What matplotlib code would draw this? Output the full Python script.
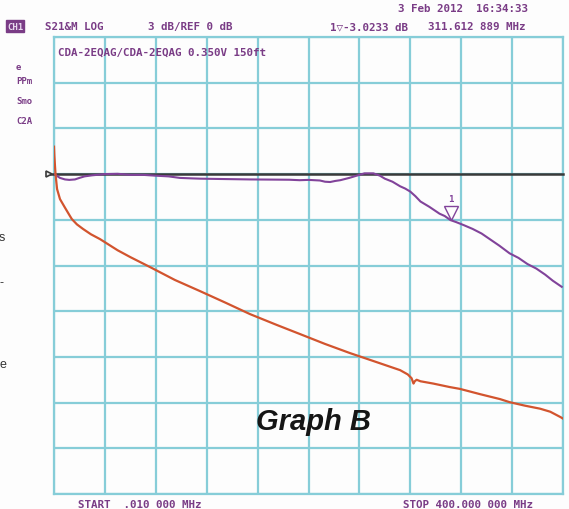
import matplotlib
matplotlib.use("Agg")
import matplotlib.pyplot as plt
import matplotlib.transforms as mtransforms

# ---- data ----
x_min_mhz, x_max_mhz = 0.0, 400.0
y_min_db, y_max_db = -21.0, 9.0
ref_db = 0.0

purple_f = [0.01, 2.0, 4.7, 8.6, 12.0, 16.5, 20.0, 24.0, 30.0, 40.0, 50.0, 60.0, 70.0, 79.0,
            90.0, 99.0, 108.0, 115.0, 130.0, 154.0, 170.0, 185.0, 193.0, 200.0, 209.0, 213.0,
            217.0, 221.0, 225.0, 232.0, 238.0, 244.0, 251.0, 256.0, 260.0, 266.0, 272.0,
            276.0, 280.0, 284.0, 288.0, 295.0, 303.0, 307.0, 311.6, 316.0, 322.0, 329.0,
            336.0, 343.0, 350.0, 358.0, 365.0, 372.0, 379.0, 386.0, 392.0, 399.0]
purple_db = [0.0, -0.1, -0.25, -0.35, -0.38, -0.35, -0.25, -0.15, -0.08, 0.0, 0.02, -0.05,
             -0.05, -0.1, -0.15, -0.25, -0.28, -0.3, -0.32, -0.35, -0.36, -0.37, -0.4, -0.38,
             -0.42, -0.5, -0.52, -0.45, -0.4, -0.25, -0.1, 0.05, 0.05, -0.1, -0.3, -0.5,
             -0.8, -0.95, -1.15, -1.45, -1.8, -2.15, -2.6, -2.75, -3.02, -3.15, -3.35, -3.6,
             -3.9, -4.3, -4.7, -5.2, -5.5, -5.9, -6.2, -6.6, -7.0, -7.4]

orange_f = [0.01, 0.3, 0.8, 1.2, 2.4, 4.7, 8.6, 12.6, 14.0, 18.0, 22.8, 29.0, 36.2, 50.0,
            60.0, 75.4, 95.0, 114.7, 135.0, 154.0, 175.0, 193.3, 213.0, 232.6, 252.0,
            272.0, 278.0, 281.0, 282.5, 283.5, 285.0, 288.0, 298.0, 311.0, 319.0, 335.0,
            350.5, 358.0, 370.0, 382.0, 390.0, 398.0, 400.0]
orange_db = [1.8, 1.2, 0.5, 0.0, -0.98, -1.64, -2.2, -2.76, -2.95, -3.3, -3.6, -3.95, -4.27,
             -5.0, -5.45, -6.1, -6.95, -7.68, -8.45, -9.19, -9.9, -10.5, -11.15, -11.75,
             -12.3, -12.87, -13.15, -13.4, -13.75, -13.6, -13.5, -13.6, -13.75, -13.98,
             -14.1, -14.45, -14.77, -14.97, -15.2, -15.4, -15.6, -15.95, -16.05]

marker_f, marker_db = 311.612889, -3.0233

grid_color = "#86cdd8"
purple = "#81439a"
orange = "#d2542e"
txt_purple = "#7a3c86"

fig = plt.figure(figsize=(5.69, 5.10), dpi=100)
fig.patch.set_facecolor("#fdfdfd")
ax = fig.add_axes([54 / 569, 1 - 495 / 510, (563 - 54) / 569, (495 - 38) / 510])
ax.set_facecolor("#fdfdfd")
ax.set_xlim(x_min_mhz, x_max_mhz)
ax.set_ylim(y_min_db, y_max_db)
ax.set_xticks([x_min_mhz + i * 40 for i in range(11)])
ax.set_yticks([y_min_db + i * 3 for i in range(11)])
ax.grid(True, color=grid_color, linewidth=1.6)
ax.tick_params(length=0, labelbottom=False, labelleft=False)
for s in ax.spines.values():
    s.set_color(grid_color)
    s.set_linewidth(1.6)

# reference line with start triangle
trans = mtransforms.blended_transform_factory(ax.transAxes, ax.transData)
ax.plot([-0.012, 1.0], [ref_db, ref_db], color="#3a3a3a", lw=1.8, transform=trans,
        clip_on=False, zorder=3)
ax.plot([-0.009], [ref_db], marker=">", color="#3a3a3a", markersize=5, transform=trans,
        clip_on=False, zorder=4, markerfacecolor="#eeeeee", markeredgewidth=1.2)

ax.plot(purple_f, purple_db, color=purple, lw=1.5, zorder=5)
ax.plot(orange_f, orange_db, color=orange, lw=1.6, zorder=5)

# marker 1
ax.plot([marker_f], [marker_db + 0.45], marker="v", markersize=10, markerfacecolor="none",
        markeredgecolor=purple, markeredgewidth=1.0, zorder=6)
ax.text(marker_f, marker_db + 1.1, "1", color=purple, fontsize=6.5,
        ha="center", va="bottom", family="DejaVu Sans Mono", fontweight="bold")

ax.text(0.008, 0.978, "CDA-2EQAG/CDA-2EQAG 0.350V 150ft", transform=ax.transAxes,
        color=txt_purple, fontsize=7.8, family="DejaVu Sans Mono", fontweight="bold",
        va="top", ha="left")

ax.text(0.509, (495 - 430) / 457, "Graph B", transform=ax.transAxes, fontsize=21,
        fontweight="bold", fontstyle="italic", family="Liberation Sans", color="#151515",
        ha="center", va="baseline", zorder=7)

mono = dict(family="DejaVu Sans Mono", fontweight="bold", color=txt_purple, fontsize=7.8)
fig.text(398 / 569, 1 - 9 / 510, "3 Feb 2012  16:34:33", va="center", ha="left", **mono)
fig.text(7 / 569, 1 - 27 / 510, "CH1", va="center", ha="left",
         bbox=dict(boxstyle="square,pad=0.12", fc="#7a3c86", ec="#7a3c86"),
         family="DejaVu Sans Mono", fontweight="bold", color="#e8d8ee", fontsize=6.5)
fig.text(45 / 569, 1 - 27 / 510, "S21&M LOG", va="center", ha="left", **mono)
fig.text(148 / 569, 1 - 27 / 510, "3 dB/REF 0 dB", va="center", ha="left", **mono)
fig.text(330 / 569, 1 - 27 / 510, "1\u25bd-3.0233 dB", va="center", ha="left", **mono)
fig.text(428 / 569, 1 - 27 / 510, "311.612 889 MHz", va="center", ha="left", **mono)
fig.text(78 / 569, 1 - 505 / 510, "START  .010 000 MHz", va="center", ha="left", **mono)
fig.text(403 / 569, 1 - 505 / 510, "STOP 400.000 000 MHz", va="center", ha="left", **mono)

# cropped page fragments at the left edge
side = dict(family="DejaVu Sans Mono", fontweight="bold", color=txt_purple, fontsize=6.5,
            va="center", ha="left")
fig.text(16 / 569, 1 - 68 / 510, "e", **side)
fig.text(16 / 569, 1 - 81 / 510, "PPm", **side)
fig.text(16 / 569, 1 - 102 / 510, "Smo", **side)
fig.text(16 / 569, 1 - 122 / 510, "C2A", **side)
body = dict(family="Liberation Sans", color="#333333", fontsize=9, va="center", ha="left")
fig.text(-1 / 569, 1 - 238 / 510, "s", **body)
fig.text(-1 / 569, 1 - 283 / 510, "-", **body)
fig.text(-1 / 569, 1 - 365 / 510, "e", **body)

fig.savefig("out.png", dpi=100, facecolor=fig.get_facecolor())
